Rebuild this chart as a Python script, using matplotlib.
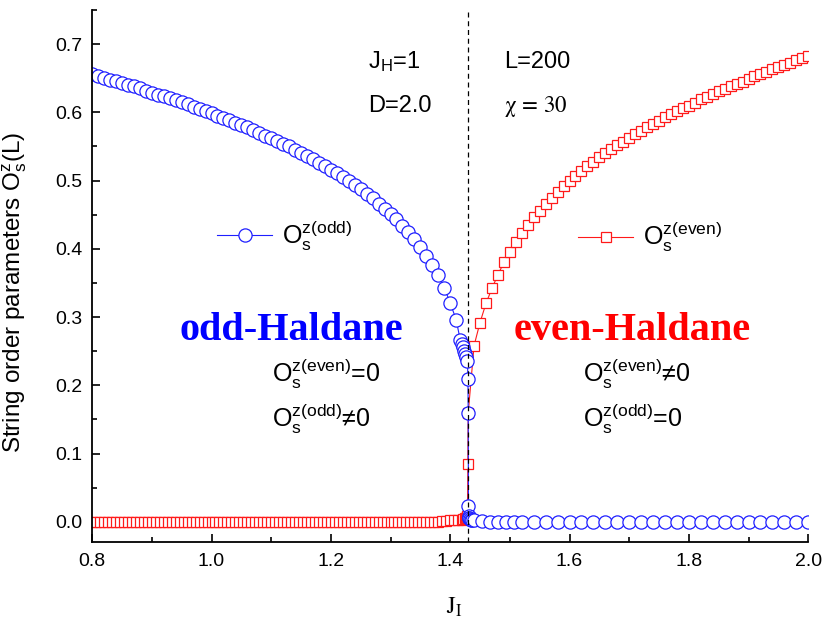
import numpy as np
import matplotlib
matplotlib.use("Agg")
import matplotlib.pyplot as plt
from matplotlib.ticker import MultipleLocator

plt.rcParams['font.family'] = ['Liberation Sans', 'DejaVu Sans']
plt.rcParams['mathtext.fontset'] = 'custom'
plt.rcParams['mathtext.rm'] = 'Liberation Sans'
plt.rcParams['mathtext.it'] = 'Liberation Sans:italic'

# ---- data ----
# O_s^z(odd): blue circles
J_odd_left = np.round(np.arange(0.80, 1.415, 0.01), 2)
O_odd_left = [0.656, 0.653, 0.651, 0.648, 0.646, 0.643, 0.640, 0.638, 0.635, 0.632,
              0.629, 0.626, 0.624, 0.621, 0.618, 0.615, 0.612, 0.608, 0.605, 0.602,
              0.599, 0.595, 0.592, 0.589, 0.585, 0.581, 0.578, 0.574, 0.570, 0.566,
              0.562, 0.558, 0.554, 0.550, 0.545, 0.541, 0.536, 0.531, 0.526, 0.521,
              0.516, 0.511, 0.505, 0.499, 0.493, 0.487, 0.480, 0.474, 0.466, 0.459,
              0.451, 0.443, 0.434, 0.424, 0.414, 0.403, 0.390, 0.377, 0.361, 0.343,
              0.321, 0.296]
J_odd_crit = [1.417, 1.419, 1.421, 1.423, 1.425, 1.427, 1.429, 1.4298, 1.4302, 1.4306,
              1.431, 1.4315, 1.432, 1.433, 1.435, 1.437]
O_odd_crit = [0.266, 0.261, 0.256, 0.251, 0.246, 0.241, 0.235, 0.209, 0.159, 0.023,
              0.008, 0.006, 0.005, 0.004, 0.003, 0.003]
J_odd_right = [1.44, 1.453, 1.467, 1.48, 1.493, 1.507] + list(np.round(np.arange(1.52, 2.001, 0.02), 2))
O_odd_right = [0.002, 0.001] + [0.0] * (len(J_odd_right) - 2)

# O_s^z(even): red squares
J_even_left = 0.8 + np.arange(94) / 150.0
O_even_left = [0.0] * 88 + [0.001, 0.001, 0.002, 0.002, 0.003, 0.003]
J_even_crit = [1.422, 1.424, 1.426, 1.428, 1.429, 1.4296, 1.4302]
O_even_crit = [0.004, 0.005, 0.006, 0.007, 0.008, 0.085, 0.159]
J_even_right = np.linspace(1.44, 2.0, 57)
O_even_right = [0.258, 0.292, 0.320, 0.342, 0.362, 0.380, 0.396, 0.410, 0.423, 0.435,
                0.446, 0.456, 0.466, 0.475, 0.483, 0.492, 0.499, 0.507, 0.514, 0.521,
                0.527, 0.534, 0.540, 0.546, 0.552, 0.557, 0.563, 0.568, 0.573, 0.578,
                0.583, 0.588, 0.593, 0.597, 0.602, 0.606, 0.610, 0.614, 0.619, 0.623,
                0.627, 0.631, 0.634, 0.638, 0.642, 0.645, 0.649, 0.653, 0.656, 0.659,
                0.663, 0.666, 0.669, 0.673, 0.676, 0.679, 0.682]

J_crit = 1.4301

J_odd = np.concatenate([J_odd_left, J_odd_crit, J_odd_right])
O_odd = np.concatenate([O_odd_left, O_odd_crit, O_odd_right])
J_even = np.concatenate([J_even_left, J_even_crit, J_even_right])
O_even = np.concatenate([O_even_left, O_even_crit, O_even_right])

fig = plt.figure(figsize=(8.23, 6.24), dpi=100)
ax = fig.add_axes([0.112, 0.131, 0.870, 0.853])

hr, = ax.plot(J_even, O_even, '-s', color='#ff1a1a', lw=0.8, ms=7.5,
              mfc='white', mec='#ff1a1a', mew=0.9)
hb, = ax.plot(J_odd, O_odd, '-o', color='#1f1fff', lw=0.8, ms=9.5,
              mfc='white', mec='#1f1fff', mew=0.9)
ax.axvline(J_crit, color='black', lw=0.9, ls=(0, (4, 3)))

ax.set_xlim(0.8, 2.0)
ax.set_ylim(-0.03, 0.75)
ax.xaxis.set_major_locator(MultipleLocator(0.2))
ax.xaxis.set_minor_locator(MultipleLocator(0.1))
ax.yaxis.set_major_locator(MultipleLocator(0.1))
ax.yaxis.set_minor_locator(MultipleLocator(0.05))
ax.xaxis.set_major_formatter(plt.FormatStrFormatter('%.1f'))
ax.yaxis.set_major_formatter(plt.FormatStrFormatter('%.1f'))
for s in ['top', 'right']:
    ax.spines[s].set_visible(False)
for s in ['left', 'bottom']:
    ax.spines[s].set_linewidth(1.3)
ax.tick_params(which='both', direction='in', width=1.2, labelsize=14)
ax.tick_params(which='major', length=6)
ax.tick_params(which='minor', length=3.5)
ax.tick_params(axis='x', pad=8)
ax.tick_params(axis='y', pad=7)

ax.set_xlabel(r'$\mathrm{J_I}$', fontsize=17, math_fontfamily='stix')
ax.set_ylabel(r'String order parameters $\mathregular{O_s^z(L)}$', fontsize=17.5)
ax.yaxis.set_label_coords(-0.088, 0.47)
ax.xaxis.set_label_coords(0.505, -0.10)

# parameters
ax.text(1.263, 0.665, r'$\mathregular{J_H}$=1', fontsize=17, va='baseline')
ax.text(1.263, 0.600, 'D=2.0', fontsize=17, va='baseline')
ax.text(1.49, 0.665, 'L=200', fontsize=17, va='baseline')
ax.text(1.49, 0.600, r'$\mathrm{\chi}\,=\,\mathrm{30}$', fontsize=16.5, va='baseline',
        math_fontfamily='stix')

# phase labels
ax.text(1.1335, 0.28, 'odd-Haldane', color='#0000ff', fontsize=29, fontweight='bold',
        family='Liberation Serif', ha='center', va='center')
ax.text(1.705, 0.28, 'even-Haldane', color='#ff0000', fontsize=29, fontweight='bold',
        family='Liberation Serif', ha='center', va='center')
ax.text(1.1017, 0.205, r'$\mathregular{O_s^{z(even)}}$=0', fontsize=18, va='baseline')
ax.text(1.1017, 0.139, r'$\mathregular{O_s^{z(odd)}}$≠0', fontsize=18, va='baseline')
ax.text(1.623, 0.205, r'$\mathregular{O_s^{z(even)}}$≠0', fontsize=18, va='baseline')
ax.text(1.623, 0.139, r'$\mathregular{O_s^{z(odd)}}$=0', fontsize=18, va='baseline')

# legends
leg1 = ax.legend([hb], [r'$\mathregular{O_s^{z(odd)}}$'], loc='center left',
                 bbox_to_anchor=(0.1746, 0.575), frameon=False, fontsize=18,
                 handlelength=2.2, handletextpad=0.4, borderpad=0, borderaxespad=0)
ax.add_artist(leg1)
ax.legend([hr], [r'$\mathregular{O_s^{z(even)}}$'], loc='center left',
          bbox_to_anchor=(0.679, 0.573), frameon=False, fontsize=18,
          handlelength=2.2, handletextpad=0.4, borderpad=0, borderaxespad=0)

fig.savefig('out.png', dpi=100)
